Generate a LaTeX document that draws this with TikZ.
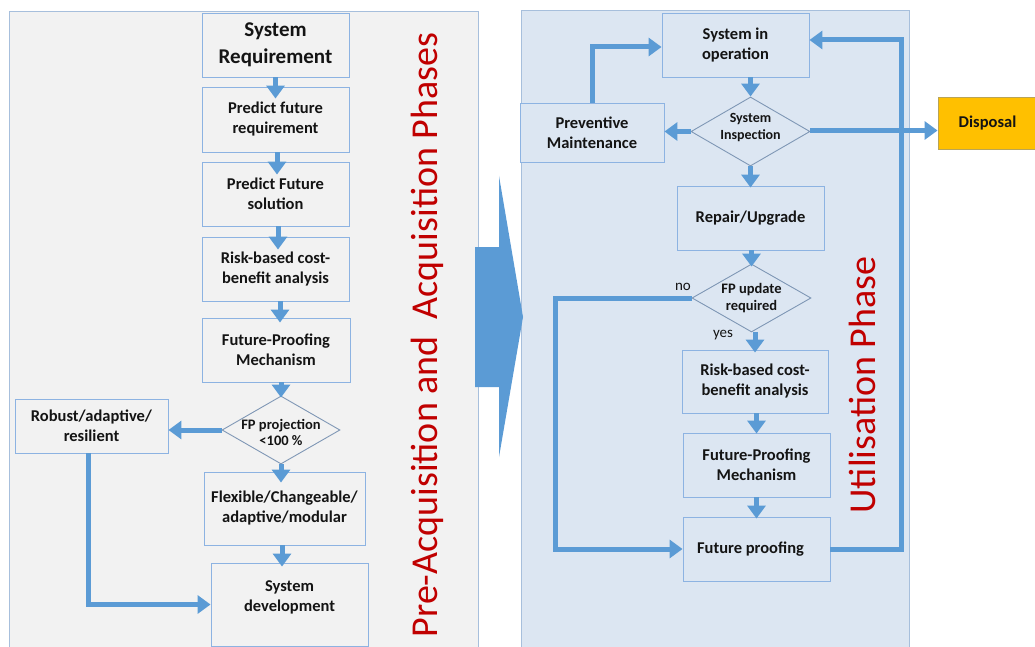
\documentclass[tikz,border=0pt]{standalone}
\usepackage{fontspec}
\setmainfont{Carlito}
\usetikzlibrary{arrows.meta,shapes.geometric,calc}

\definecolor{flowblue}{HTML}{5B9BD5}
\definecolor{boxline}{HTML}{8DB3E2}
\definecolor{panelline}{HTML}{A7BFDC}
\definecolor{leftfill}{HTML}{F2F2F2}
\definecolor{rightfill}{HTML}{DCE6F2}
\definecolor{dialine}{HTML}{7F97B5}
\definecolor{phasered}{HTML}{C00000}
\definecolor{dispfill}{HTML}{FFC000}
\definecolor{displine}{HTML}{B9A456}
\definecolor{ink}{HTML}{141414}

\begin{document}
\begin{tikzpicture}[x=1pt,y=-1pt,
  panel/.style={draw=panelline, line width=0.9pt, anchor=north west, inner sep=0pt},
  box/.style={draw=boxline, line width=0.9pt, inner sep=0pt, align=center, text=ink,
    font=\bfseries\fontsize{16.5}{20}\selectfont},
  lbox/.style={box, fill=leftfill},
  rbox/.style={box, fill=rightfill},
  dia/.style={diamond, draw=dialine, line width=0.9pt, inner sep=0pt},
  dtext/.style={align=center, text=ink, font=\bfseries\fontsize{14.5}{16}\selectfont},
  arr/.style={draw=flowblue, line width=5pt, -{Triangle[length=13pt,width=18pt]}},
  phase/.style={rotate=90, anchor=base, text=phasered, font=\fontsize{38}{44}\selectfont},
  small/.style={text=ink, font=\fontsize{15}{18}\selectfont}
]
\path[use as bounding box] (0,0) rectangle (1035,647);
\clip (0,0) rectangle (1035,647);
\fill[white] (0,0) rectangle (1035,647);

% phase panels
\node[panel, fill=leftfill, minimum width=469pt, minimum height=660pt] (lpanel) at (9,11) {};
\node[panel, fill=rightfill, minimum width=388pt, minimum height=660pt] (rpanel) at (521,10) {};

% transition arrow between the phases
\fill[flowblue] (475,247) -- (499,247) -- (499,176) -- (523,317) -- (499,457)
  -- (499,387) -- (475,387) -- cycle;

% pre-acquisition and acquisition steps
\node[lbox, minimum width=147pt, minimum height=64pt,
  font=\bfseries\fontsize{21}{27}\selectfont] (sr) at (275.5,45) {System\\Requirement};
\node[lbox, minimum width=147pt, minimum height=65pt] (pfr) at (275.5,119.5) {Predict future\\requirement};
\node[lbox, minimum width=147pt, minimum height=64pt] (pfs) at (275.5,194) {Predict Future\\solution};
\node[lbox, minimum width=147pt, minimum height=64pt] (rk1) at (275.5,269) {Risk-based cost-\\benefit analysis};
\node[lbox, minimum width=148pt, minimum height=64pt] (fpm1) at (276,350) {Future-Proofing\\Mechanism};
\node[dia, minimum width=118pt, minimum height=68pt,
  label={[name=d1text, dtext, yshift=-2pt]center:FP projection\\<100 \%}] (d1) at (281,430) {};
\node[lbox, minimum width=153pt, minimum height=54pt] (rob) at (91.5,426) {Robust/adaptive/\\resilient};
\node[lbox, minimum width=161pt, minimum height=73pt] (flex) at (284.5,508.5) {Flexible/Changeable/\\adaptive/modular};
\node[lbox, minimum width=157pt, minimum height=83pt,
  label={[name=sdevtext, box, draw=none, yshift=7.5pt]center:System\\development}] (sdev) at (289.5,604.5) {};

% utilisation steps
\node[rbox, minimum width=147pt, minimum height=64pt] (sio) at (735.5,45) {System in\\operation};
\node[dia, minimum width=119pt, minimum height=69pt,
  label={[name=d2text, dtext, font=\bfseries\fontsize{14}{17}\selectfont, yshift=4pt]center:System\\Inspection}] (d2) at (750.5,131.5) {};
\node[rbox, minimum width=144pt, minimum height=59pt] (pm) at (592,132.5) {Preventive\\Maintenance};
\node[box, fill=dispfill, draw=displine, minimum width=99pt, minimum height=52pt] (disp) at (987.5,123) {Disposal};
\node[rbox, minimum width=147pt, minimum height=64pt] (ru) at (750.5,218) {Repair/Upgrade};
\node[dia, minimum width=119pt, minimum height=68pt,
  label={[name=d3text, dtext, font=\bfseries\fontsize{14.5}{17}\selectfont]center:FP update\\required}] (d3) at (751.5,298) {};
\node[rbox, minimum width=146pt, minimum height=63pt] (rk2) at (755,381.5) {Risk-based cost-\\benefit analysis};
\node[rbox, minimum width=147pt, minimum height=64pt] (fpm2) at (756.5,465) {Future-Proofing\\Mechanism};
\node[rbox, minimum width=147pt, minimum height=64pt,
  label={[name=fptext, box, draw=none, xshift=-6pt]center:Future proofing}] (fp) at (756.5,549) {};

\node[small, anchor=base] (nolabel) at (683,290) {no};
\node[small, anchor=base] (yeslabel) at (723,337) {yes};

% phase titles
\node[phase] (prephase) at (437,335) {Pre-Acquisition and~~Acquisition Phases};
\node[phase] (usephase) at (875,385) {Utilisation Phase};

% connectors, pre-acquisition and acquisition
\draw[arr, shorten >=-12pt] (sr.south) -- (sr.south |- pfr.north);
\draw[arr, shorten >=-13pt] ([xshift=1.5pt]pfr.south) -- ([xshift=1.5pt]pfr.south |- pfs.north);
\draw[arr, shorten >=-13pt] ([xshift=2.5pt]pfs.south) -- ([xshift=2.5pt]pfs.south |- rk1.north);
\draw[arr, shorten >=-5pt] ([xshift=4.5pt]rk1.south) -- ([xshift=4.5pt]rk1.south |- fpm1.north);
\draw[arr, shorten >=-2pt] (d1.north |- fpm1.south) -- (d1.north);
\draw[arr, shorten >=-11pt] (d1.south) -- (d1.south |- flex.north);
\draw[arr, shorten >=-4pt] ([xshift=-2.5pt]flex.south) -- ([xshift=-2.5pt]flex.south |- sdev.north);
\draw[arr] (d1.west) -- (d1.west -| rob.east);
\draw[arr] ([xshift=-3.5pt]rob.south) |- (sdev.west);

% connectors, utilisation
\draw[arr] (d2.north |- sio.south) -- (d2.north);
\draw[arr] (d2.west) -- (d2.west -| pm.east);
\draw[arr] (pm.north) |- ([yshift=-2pt]sio.west);
\draw[arr] ([yshift=1pt]d2.east) -- ([yshift=1pt]d2.east -| disp.west);
\draw[arr, shorten >=-2pt] (d2.south) -- (d2.south |- ru.north);
\draw[arr, shorten >=-3pt] (d3.north |- ru.south) -- (d3.north);
\draw[arr, shorten >=-3pt] (rk2.north |- d3.south) -- (rk2.north);
\draw[arr, shorten >=-1pt] (fpm2.north |- rk2.south) -- (fpm2.north);
\draw[arr, shorten >=-2pt] (fp.north |- fpm2.south) -- (fp.north);
\coordinate (nobend) at (555,298);
\draw[arr] (d3.west) -- (nobend) |- (fp.west);
\coordinate (loopbot) at (901,549);
\coordinate (looptop) at (901,40);
\draw[arr] (fp.east) -- (loopbot) -- (looptop) -- (looptop -| sio.east);
\end{tikzpicture}
\end{document}
